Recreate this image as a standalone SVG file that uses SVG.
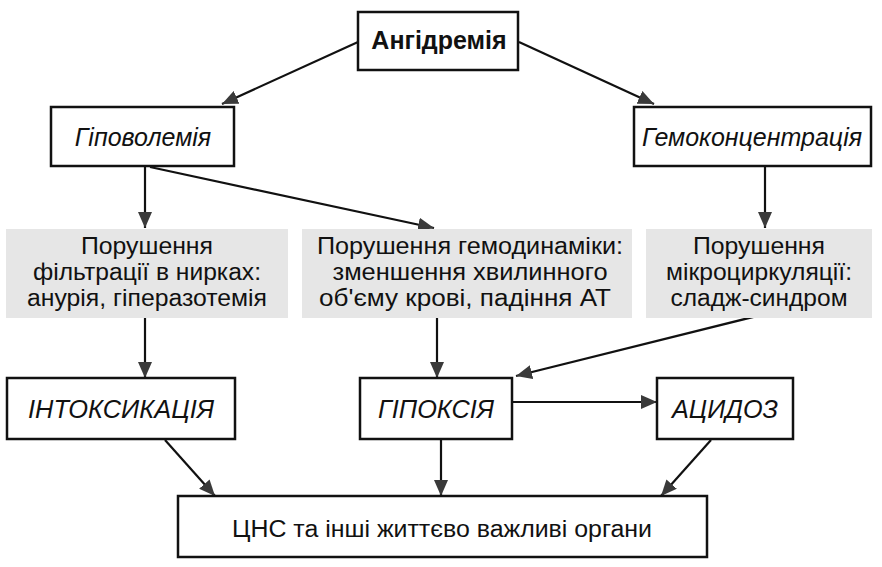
<svg xmlns="http://www.w3.org/2000/svg" width="882" height="567" viewBox="0 0 882 567">
<defs>
<marker id="ah" markerUnits="userSpaceOnUse" markerWidth="18" markerHeight="14" refX="16" refY="7" orient="auto">
<path d="M0,0 L16,7 L0,14 Z" fill="#3a3a3a"/>
</marker>
<style>
.box{fill:#fff;stroke:#111;stroke-width:2.5}
.gray{fill:#e6e6e6;stroke:none}
.t{font-family:"Liberation Sans",Arial,sans-serif;fill:#111;text-anchor:middle}
.g{font-size:23px}
.c line{stroke:#111;stroke-width:2.2;marker-end:url(#ah)}
</style>
</defs>
<rect width="882" height="567" fill="#fff"/>
<g class="c" id="connectors">
<line x1="358" y1="42" x2="222" y2="104"/>
<line x1="519" y1="42" x2="654" y2="104"/>
<line x1="145" y1="167" x2="145" y2="228"/>
<line x1="150" y1="167" x2="434" y2="228"/>
<line x1="765" y1="167" x2="765" y2="228"/>
<line x1="145" y1="318" x2="145" y2="378"/>
<line x1="437" y1="318" x2="437" y2="378"/>
<line x1="765" y1="314" x2="516" y2="376"/>
<line x1="512" y1="402" x2="657" y2="402"/>
<line x1="165" y1="440" x2="215" y2="496"/>
<line x1="441" y1="440" x2="441" y2="496"/>
<line x1="711" y1="440" x2="661" y2="496"/>
</g>
<g id="angidremia">
<rect class="box" x="358" y="12" width="160" height="58"/>
<text class="t" x="439" y="49" font-size="25" font-weight="bold">Ангідремія</text>
</g>
<g id="hipovolemia">
<rect class="box" x="51" y="107" width="183" height="59"/>
<text class="t" x="143" y="146" font-size="25" font-style="italic">Гіповолемія</text>
</g>
<g id="hemokoncentracia">
<rect class="box" x="634" y="107" width="237" height="59"/>
<text class="t" x="752" y="146" font-size="25" font-style="italic">Гемоконцентрація</text>
</g>
<g id="filtracia">
<rect class="gray" x="6" y="229" width="282" height="89"/>
<text class="t g" x="147" y="254" textLength="132" lengthAdjust="spacingAndGlyphs">Порушення</text>
<text class="t g" x="147" y="280" textLength="228" lengthAdjust="spacingAndGlyphs">фільтрації в нирках:</text>
<text class="t g" x="147" y="306" textLength="240" lengthAdjust="spacingAndGlyphs">анурія, гіперазотемія</text>
</g>
<g id="hemodynamika">
<rect class="gray" x="302" y="229" width="330" height="89"/>
<text class="t g" x="470" y="254" textLength="306" lengthAdjust="spacingAndGlyphs">Порушення гемодинаміки:</text>
<text class="t g" x="470" y="280" textLength="275" lengthAdjust="spacingAndGlyphs">зменшення хвилинного</text>
<text class="t g" x="465" y="306" textLength="292" lengthAdjust="spacingAndGlyphs">об'єму крові, падіння  АТ</text>
</g>
<g id="mikrocirkulacia">
<rect class="gray" x="646" y="229" width="226" height="89"/>
<text class="t g" x="759" y="254" textLength="132" lengthAdjust="spacingAndGlyphs">Порушення</text>
<text class="t g" x="759" y="280" textLength="186" lengthAdjust="spacingAndGlyphs">мікроциркуляції:</text>
<text class="t g" x="759" y="306" textLength="177" lengthAdjust="spacingAndGlyphs">сладж-синдром</text>
</g>
<g id="intoksikacia">
<rect class="box" x="7" y="378" width="228" height="61"/>
<text class="t" x="121" y="418" font-size="25" font-style="italic" textLength="186" lengthAdjust="spacingAndGlyphs">ІНТОКСИКАЦІЯ</text>
</g>
<g id="hipoksia">
<rect class="box" x="360" y="378" width="152" height="61"/>
<text class="t" x="436" y="418" font-size="25" font-style="italic" textLength="116" lengthAdjust="spacingAndGlyphs">ГІПОКСІЯ</text>
</g>
<g id="acidoz">
<rect class="box" x="657" y="378" width="136" height="61"/>
<text class="t" x="725" y="418" font-size="25" font-style="italic" textLength="106" lengthAdjust="spacingAndGlyphs">АЦИДОЗ</text>
</g>
<g id="cns">
<rect class="box" x="178" y="496" width="529" height="61"/>
<text class="t" x="442" y="537" font-size="23" textLength="420" lengthAdjust="spacingAndGlyphs">ЦНС та інші життєво важливі органи</text>
</g>
</svg>
